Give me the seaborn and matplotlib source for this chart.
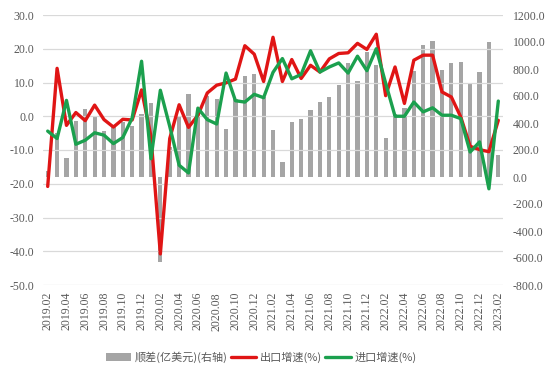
import matplotlib
matplotlib.use("Agg")
import matplotlib.pyplot as plt
from matplotlib.patches import Patch
from matplotlib.lines import Line2D
import numpy as np
import seaborn as sns

# ---- data ----
months = [f"{y}.{m:02d}" for y in range(2019, 2024) for m in range(1, 13)]
months = months[months.index("2019.02"):months.index("2023.02") + 1]

surplus = [41, 326, 138, 417, 505, 445, 340, 380, 410, 375, 468,
           545, -627, 220, 450, 615, 470, 600, 580, 355, 575, 745, 760,
           590, 350, 112, 410, 432, 500, 558, 590, 681, 842, 711, 928,
           830, 290, 470, 508, 785, 978, 1007, 793, 847, 854, 700, 780,
           1002, 163]

export_growth = [-20.8, 14.2, -2.7, 1.1, -1.3, 3.3, -1.0, -3.2, -0.9, -1.1, 7.8,
                 -6.0, -40.8, -6.6, 3.4, -3.3, 0.3, 6.9, 9.2, 9.9, 11.0, 20.9, 18.4,
                 10.3, 23.4, 10.3, 16.8, 11.2, 15.1, 13.1, 17.0, 18.6, 18.8, 21.6, 19.8,
                 24.3, 6.1, 14.6, 3.8, 16.6, 18.1, 18.1, 7.2, 5.7, -0.2, -8.9, -9.9,
                 -10.5, -1.2]

import_growth = [-4.4, -6.6, 4.7, -8.3, -7.1, -4.9, -5.6, -8.1, -6.3, -0.5, 16.3,
                 -12.6, 7.7, -3.0, -14.5, -16.8, 2.4, -1.0, -2.3, 12.8, 4.6, 4.2, 6.5,
                 5.5, 13.0, 17.1, 11.1, 12.4, 19.4, 13.1, 14.6, 15.8, 12.8, 17.8, 13.5,
                 20.0, 9.8, 0.0, 0.0, 4.2, 1.3, 2.5, 0.3, 0.3, -0.7, -10.6, -7.6,
                 -21.5, 4.5]

legend_labels = ["顺差(亿美元)(右轴)", "出口增速(%)", "进口增速(%)"]

# ---- style ----
sns.set_theme(style="white")
plt.rcParams["font.family"] = ["Noto Sans CJK SC", "DejaVu Sans"]

GRAY = "#A5A5A5"
RED = "#E01515"
GREEN = "#1BA04E"
TXT = "#595959"

n = len(months)
idx = np.arange(n)

fig = plt.figure(figsize=(5.54, 3.76), dpi=100)
ax = fig.add_axes([43 / 554, 1 - 285 / 376, 460 / 554, 270 / 376])
ax2 = ax.twinx()

sns.barplot(x=idx, y=surplus, ax=ax2, color=GRAY, width=0.45,
            saturation=1, linewidth=0)
sns.lineplot(x=idx, y=export_growth, ax=ax, color=RED, linewidth=2.4)
sns.lineplot(x=idx, y=import_growth, ax=ax, color=GREEN, linewidth=2.4)

ax.set_zorder(ax2.get_zorder() + 1)
ax.patch.set_visible(False)

ax.set_ylim(-50, 30)
lt = list(range(-50, 31, 10))
ax.set_yticks(lt)
ax.set_yticklabels([f"{v:.1f}" for v in lt])
ax2.set_ylim(-800, 1200)
rt = list(range(-800, 1201, 200))
ax2.set_yticks(rt)
ax2.set_yticklabels([f"{v:.1f}" for v in rt])

ax.set_xlim(-0.5, n - 0.5)
ax.set_xticks(idx[::2])
ax.set_xticklabels(months[::2], rotation=90)

for a in (ax, ax2):
    a.set_xlabel("")
    a.set_ylabel("")
    for s in a.spines.values():
        s.set_visible(False)
    a.tick_params(length=0)

ax2.grid(False)
ax.xaxis.grid(False)
ax.yaxis.grid(True, color="#D9D9D9", linewidth=0.9)

tick_font = dict(family=["Liberation Serif"], size=8.5)
for lab in ax.get_yticklabels() + ax.get_xticklabels() + ax2.get_yticklabels():
    lab.set_fontfamily(tick_font["family"])
    lab.set_fontsize(tick_font["size"])
    lab.set_color(TXT)
ax.tick_params(axis="y", pad=6)
ax.tick_params(axis="x", pad=5)
ax2.tick_params(axis="y", pad=7)

handles = [Patch(facecolor=GRAY, edgecolor="none"),
           Line2D([], [], color=RED, linewidth=2.4),
           Line2D([], [], color=GREEN, linewidth=2.4)]
leg = fig.legend(handles, legend_labels, loc="center",
                 bbox_to_anchor=(261 / 554, 1 - 357 / 376), ncol=3,
                 frameon=False, handlelength=2.3, handletextpad=0.3,
                 columnspacing=0.3, prop=dict(family=["Noto Sans CJK SC", "DejaVu Sans"], size=8))
for t in leg.get_texts():
    t.set_color(TXT)

fig.savefig("out.png", dpi=100, facecolor="white")
